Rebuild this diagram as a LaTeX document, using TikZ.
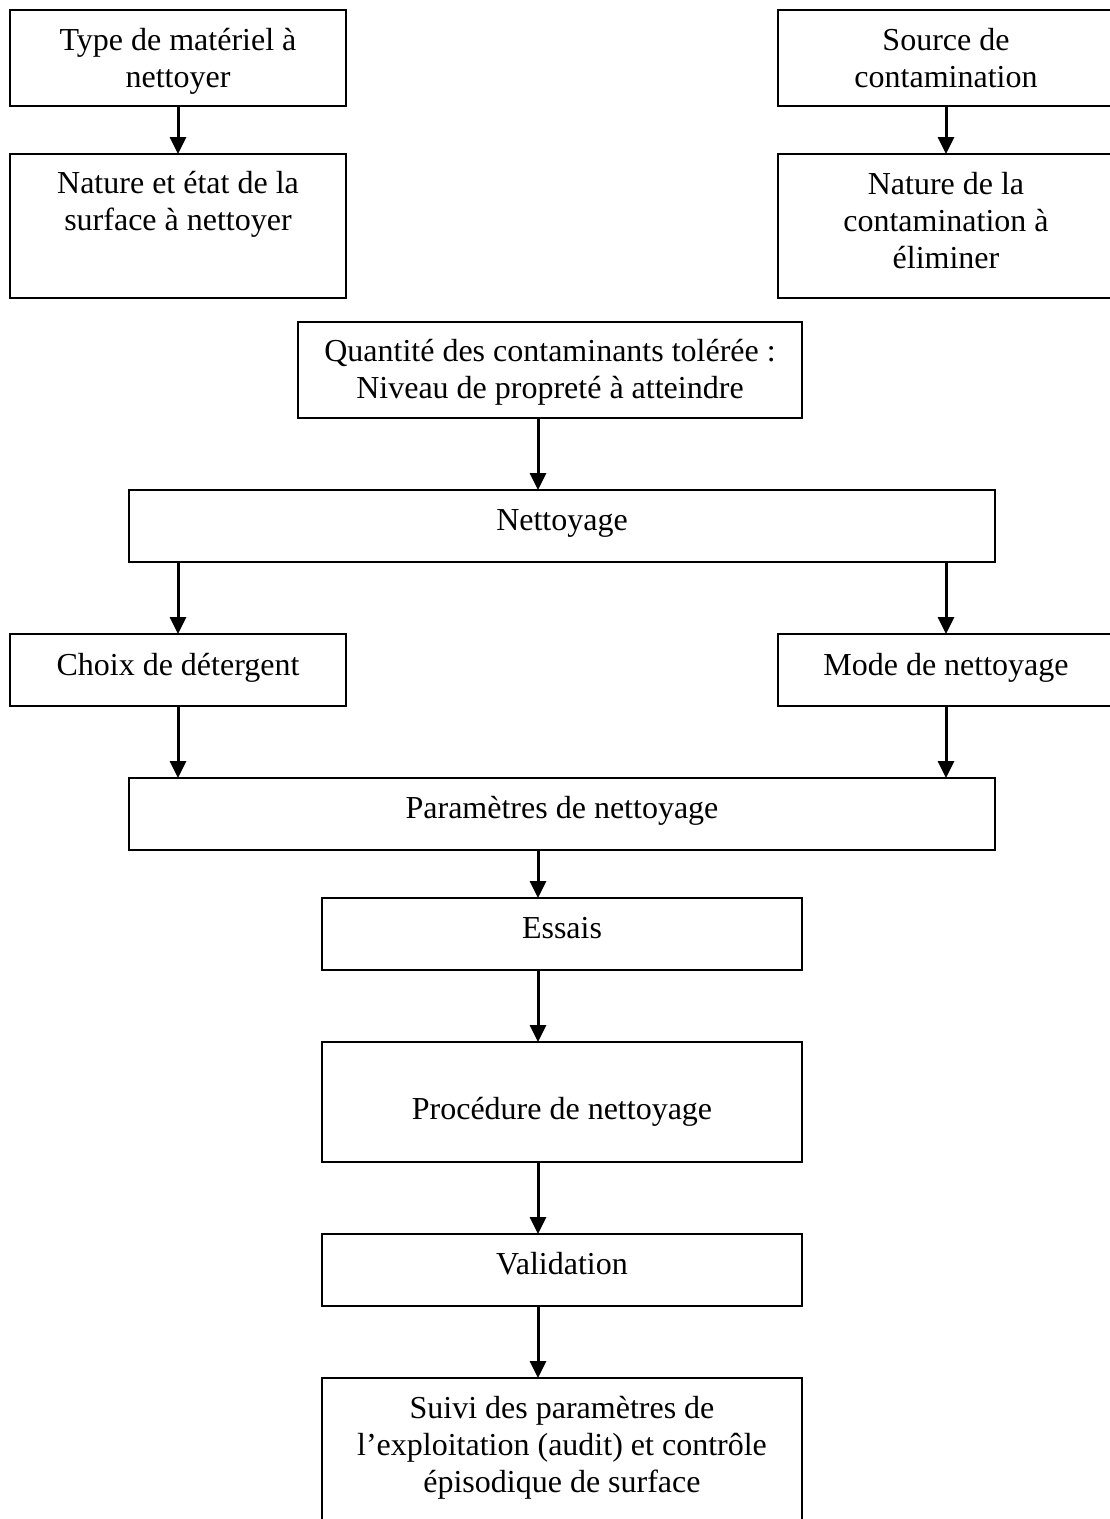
\documentclass[tikz,border=0pt]{standalone}
\usepackage{fontspec}
\setmainfont{Liberation Serif}
\usetikzlibrary{arrows.meta}

\begin{document}
\begin{tikzpicture}[
  x=1pt, y=-1pt,
  box/.style={draw=black, line width=2pt, rectangle, inner sep=0pt},
  txt/.style={font=\fontsize{32}{36.8}\selectfont, align=center, anchor=base, inner sep=0pt},
  arr/.style={draw=black, line width=3pt, -{Triangle[width=16pt,length=17pt]}, shorten >=-1pt}
]
\useasboundingbox (0,0) rectangle (1110,1519);
\clip (0,0) rectangle (1110,1519);

% frames
\node[box, minimum width=336pt, minimum height=96pt]  (type)    at (178,58)   {};
\node[box, minimum width=336pt, minimum height=144pt] (surface) at (178,226)  {};
\node[box, minimum width=336pt, minimum height=96pt]  (source)  at (946,58)   {};
\node[box, minimum width=336pt, minimum height=144pt] (natcont) at (946,226)  {};
\node[box, minimum width=504pt, minimum height=96pt]  (quant)   at (550,370)  {};
\node[box, minimum width=866pt, minimum height=72pt]  (nett)    at (562,526)  {};
\node[box, minimum width=336pt, minimum height=72pt]  (choix)   at (178,670)  {};
\node[box, minimum width=336pt, minimum height=72pt]  (mode)    at (946,670)  {};
\node[box, minimum width=866pt, minimum height=72pt]  (param)   at (562,814)  {};
\node[box, minimum width=480pt, minimum height=72pt]  (essais)  at (562,934)  {};
\node[box, minimum width=480pt, minimum height=120pt] (proc)    at (562,1102) {};
\node[box, minimum width=480pt, minimum height=72pt]  (valid)   at (562,1270) {};
\node[box, minimum width=480pt, minimum height=170pt] (suivi)   at (562,1463) {};

% texts (placed on the baseline of their last line)
\node[txt] (ttype)    at (178,87)   {Type de matériel à\\nettoyer};
\node[txt] (tsurface) at (178,230)  {Nature et état de la\\surface à nettoyer};
\node[txt] (tsource)  at (946,87)   {Source de\\contamination};
\node[txt] (tnatcont) at (946,268)  {Nature de la\\contamination à\\éliminer};
\node[txt] (tquant)   at (550,398)  {Quantité des contaminants tolérée :\\Niveau de propreté à atteindre};
\node[txt] (tnett)    at (562,530)  {Nettoyage};
\node[txt] (tchoix)   at (178,675)  {Choix de détergent};
\node[txt] (tmode)    at (946,675)  {Mode de nettoyage};
\node[txt] (tparam)   at (562,818)  {Paramètres de nettoyage};
\node[txt] (tessais)  at (562,938)  {Essais};
\node[txt] (tproc)    at (562,1119) {Procédure de nettoyage};
\node[txt] (tvalid)   at (562,1274) {Validation};
\node[txt] (tsuivi)   at (562,1492) {Suivi des paramètres de\\l’exploitation (audit) et contrôle\\épisodique de surface};

% central line of the flow
\coordinate (spine) at (538,0);

% connectors
\draw[arr] (type.south)   -- (surface.north);
\draw[arr] (source.south) -- (natcont.north);
\draw[arr] (quant.south -| spine) -- (nett.north -| spine);
\draw[arr] (nett.south -| choix) -- (choix.north);
\draw[arr] (nett.south -| mode)  -- (mode.north);
\draw[arr] (choix.south) -- (param.north -| choix);
\draw[arr] (mode.south)  -- (param.north -| mode);
\draw[arr] (param.south -| spine)  -- (essais.north -| spine);
\draw[arr] (essais.south -| spine) -- (proc.north -| spine);
\draw[arr] (proc.south -| spine)   -- (valid.north -| spine);
\draw[arr] (valid.south -| spine)  -- (suivi.north -| spine);
\end{tikzpicture}
\end{document}
